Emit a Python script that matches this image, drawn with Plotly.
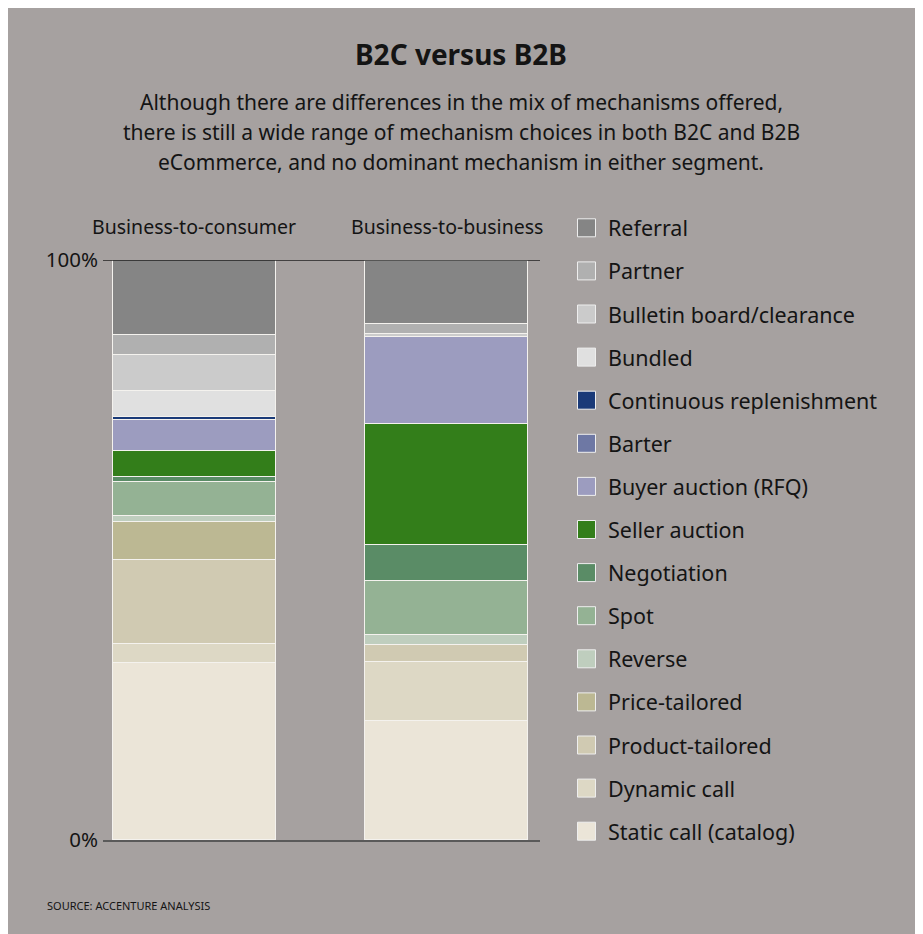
import plotly.graph_objects as go

# ---- data ----
segments = ["Business-to-consumer", "Business-to-business"]
mechanisms = [
    "Static call (catalog)", "Dynamic call", "Product-tailored", "Price-tailored",
    "Reverse", "Spot", "Negotiation", "Seller auction", "Buyer auction (RFQ)",
    "Barter", "Continuous replenishment", "Bundled", "Bulletin board/clearance",
    "Partner", "Referral",
]
b2c_values = [30.6, 3.2, 14.5, 6.6, 0.9, 6.0, 0.8, 4.5, 5.3, 0.0, 0.6, 4.4, 6.3, 3.4, 12.9]
b2b_values = [20.5, 10.2, 2.9, 0.0, 1.8, 9.3, 6.2, 20.9, 15.0, 0.0, 0.0, 0.0, 0.4, 1.7, 10.9]
colors = [
    "#ebe5d8", "#ddd8c5", "#d0cab2", "#bcb893", "#bfcebe", "#94b294", "#5a8c66",
    "#337e1a", "#9c9cbf", "#6e78a4", "#1a3a78", "#e0e0e0", "#cbcbcb", "#b0b0b0",
    "#858585",
]
y_ticks = [0, 100]
y_tick_labels = ["0%", "100%"]

title = "B2C versus B2B"
subtitle_lines = [
    "Although there are differences in the mix of mechanisms offered,",
    "there is still a wide range of mechanism choices in both B2C and B2B",
    "eCommerce, and no dominant mechanism in either segment.",
]
source = "SOURCE: ACCENTURE ANALYSIS"

# ---- layout geometry (screen pixels incl. 8px page margin) ----
W, H = 923, 934
OFF = 8
L, R, T, B = 103, 540, 260, 840
PW, PH = R - L, B - T
FONT = "Noto Sans"
BG = "#a6a1a0"
TXT = "#141414"


def px_x(px):
    return (px - L) / PW


def px_y(py):
    return (B - py) / PH


fig = go.Figure()
xpos = [0, 1]
for i, name in enumerate(mechanisms):
    fig.add_trace(go.Bar(
        x=xpos, y=[b2c_values[i], b2b_values[i]], name=name,
        marker=dict(color=colors[i], line=dict(color="#f4f2ee", width=1)),
        width=0.647, showlegend=False, hoverinfo="name+y",
    ))

annotations = []
shapes = []
# top (100%) reference line
shapes.append(dict(type="line", xref="paper", x0=0, x1=1, yref="y",
                   y0=y_ticks[-1], y1=y_ticks[-1],
                   line=dict(color="#222222", width=1.5), layer="above"))
# column headers
for xi, seg in zip(xpos, segments):
    annotations.append(dict(x=xi, xref="x", y=px_y(227), yref="paper", text=seg,
                            showarrow=False, xanchor="center", yanchor="middle",
                            font=dict(family=FONT, size=19.5, color=TXT)))
# legend (drawn top-down: Referral first)
leg_items = list(reversed(list(range(len(mechanisms)))))
for k, i in enumerate(leg_items):
    cy = 227.8 + k * 43.1
    shapes.append(dict(type="rect", xref="paper", yref="paper",
                       x0=px_x(577.5), x1=px_x(595.5), y0=px_y(cy - 9), y1=px_y(cy + 9),
                       fillcolor=colors[i], line=dict(color="#eeeeee", width=1)))
    annotations.append(dict(x=px_x(606), xref="paper", y=px_y(cy), yref="paper",
                            text=mechanisms[i], showarrow=False, xanchor="left",
                            yanchor="middle",
                            font=dict(family=FONT, size=21.5, color=TXT)))
# title / subtitle / source
annotations.append(dict(x=px_x(461), xref="paper", y=px_y(54), yref="paper",
                        text="<b>" + title + "</b>", showarrow=False,
                        xanchor="center", yanchor="middle",
                        font=dict(family=FONT, size=28, color=TXT)))
for j, line in enumerate(subtitle_lines):
    annotations.append(dict(x=px_x(461), xref="paper", y=px_y(102 + 30 * j), yref="paper",
                            text=line, showarrow=False, xanchor="center",
                            yanchor="middle",
                            font=dict(family=FONT, size=21, color=TXT)))
annotations.append(dict(x=px_x(45), xref="paper", y=px_y(905), yref="paper",
                        text=source, showarrow=False, xanchor="left",
                        yanchor="middle",
                        font=dict(family=FONT, size=11, color=TXT)))

fig.update_layout(
    width=W, height=H,
    margin=dict(l=L - OFF, r=W - (R - OFF), t=T - OFF, b=H - (B - OFF)),
    paper_bgcolor=BG, plot_bgcolor=BG,
    barmode="stack", bargap=0,
    annotations=annotations, shapes=shapes,
    xaxis=dict(range=[-0.363, 1.371], showticklabels=False, showgrid=False,
               zeroline=False, showline=True, linecolor="#5a5a5a", linewidth=2,
               fixedrange=True),
    yaxis=dict(range=[0, 100], tickvals=y_ticks, ticktext=y_tick_labels,
               showgrid=False, zeroline=False,
               ticks="", ticklabelstandoff=4,
               tickfont=dict(family=FONT, size=20.5, color=TXT), fixedrange=True),
)

fig.write_html("out.html")
